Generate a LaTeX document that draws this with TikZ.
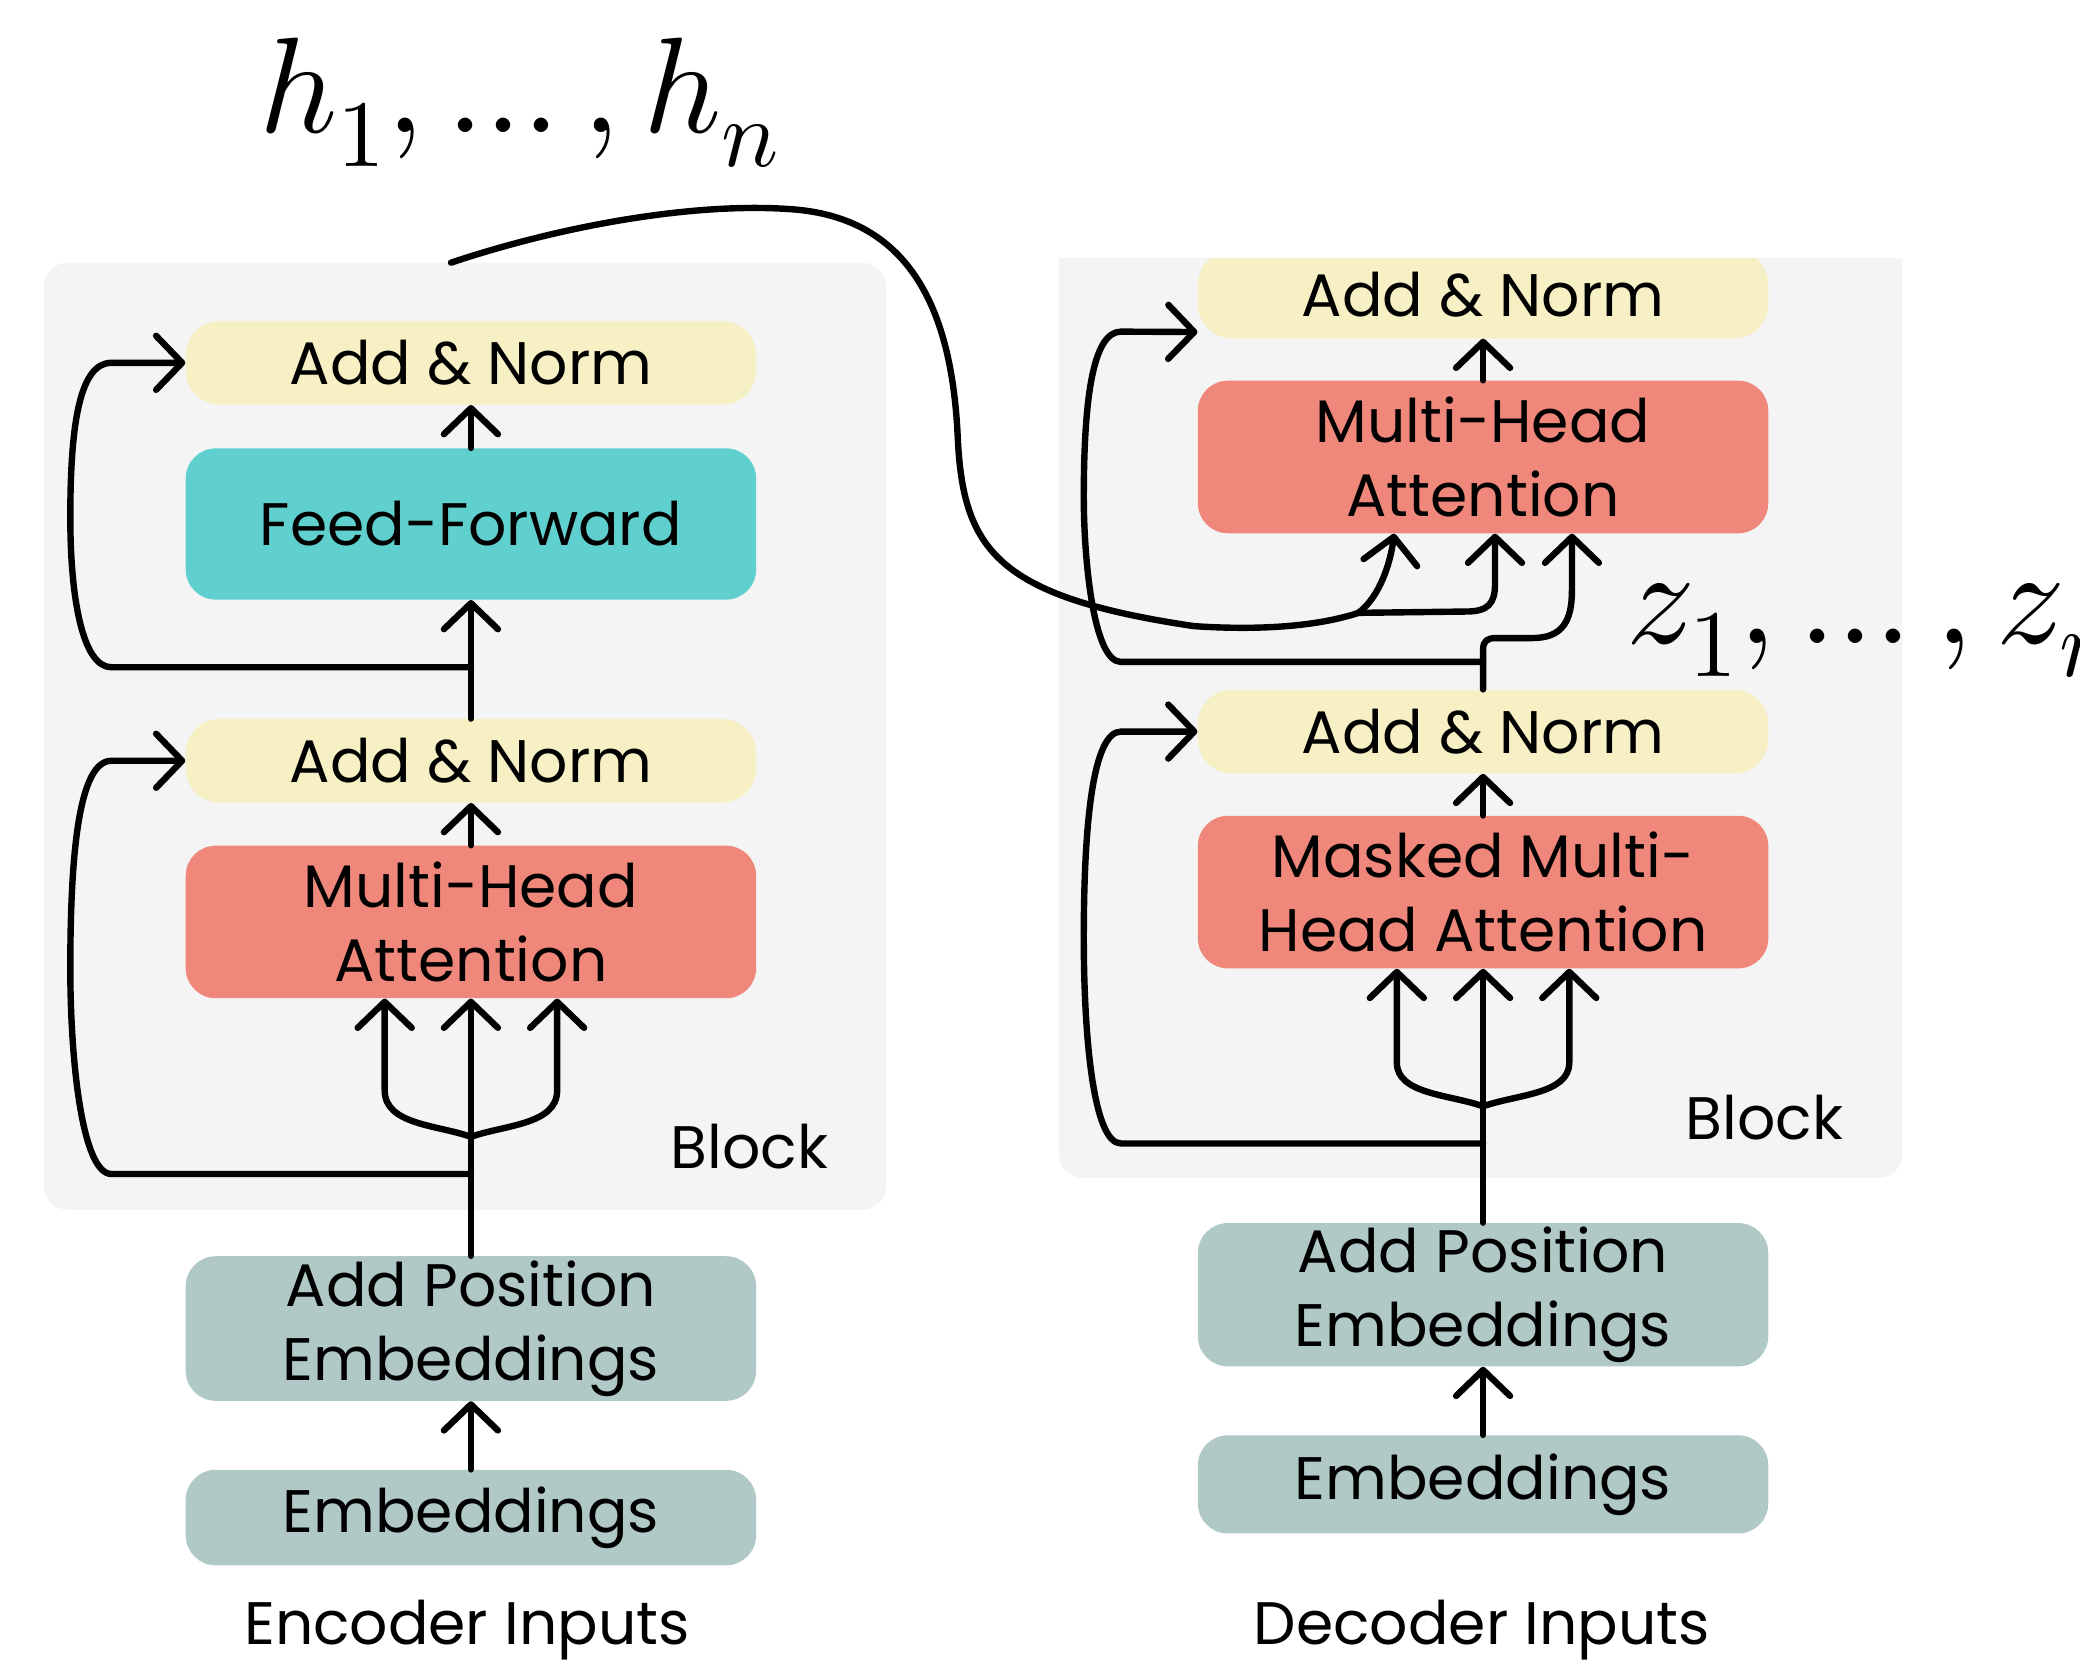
\documentclass[tikz,border=0pt]{standalone}
\usepackage{fontspec}
\usepackage{unicode-math}
\setmainfont{Poppins}
\setmathfont{Latin Modern Math}
\usetikzlibrary{arrows.meta,calc}
\definecolor{blockbg}{HTML}{F4F4F4}
\definecolor{anyellow}{HTML}{F6F0C4}
\definecolor{ffteal}{HTML}{5FD0CD}
\definecolor{mhared}{HTML}{EF887A}
\definecolor{embgray}{HTML}{B0C9C7}
\newcommand{\spx}{0.6633pt}
\begin{document}
\begin{tikzpicture}[x=0.6633pt,y=-0.6633pt,
  box/.style={rounded corners=15pt, minimum width=430*\spx, align=center, inner sep=0pt, font=\fontsize{30}{37}\selectfont, text=black},
  anbox/.style={box, fill=anyellow, minimum height=63*\spx, rounded corners=17pt},
  ffbox/.style={box, fill=ffteal, minimum height=114*\spx},
  mhabox/.style={box, fill=mhared, minimum height=115*\spx},
  embbox/.style={box, fill=embgray},
  blkbox/.style={fill=blockbg, rounded corners=12pt, inner sep=0pt},
  lbl/.style={inner sep=0pt, font=\fontsize{30}{37}\selectfont, anchor=base},
  mathlbl/.style={inner sep=0pt, anchor=base west, font=\fontsize{68}{80}\selectfont},
  conn/.style={line width=3.2pt, line cap=round, line join=round},
  arr/.style={conn, -{Straight Barb[length=13pt,width=27pt,round]}},
]
\useasboundingbox (0,0) rectangle (1568,1254);

% ---------- encoder ----------
\node[blkbox, minimum width=635*\spx, minimum height=714*\spx] (eBlk) at (350.5,555) {};
\node[anbox] (eAN1) at (355,273.5) {Add \& Norm};
\node[ffbox] (eFF) at (355,395) {Feed-Forward};
\node[anbox] (eAN2) at (355,573.5) {Add \& Norm};
\node[mhabox] (eMHA) at (355,695) {Multi-Head\\Attention};
\node[embbox, minimum height=109*\spx] (eAPE) at (355,1001.5) {Add Position\\Embeddings};
\node[embbox, minimum height=72*\spx] (eEmb) at (355,1144) {Embeddings};
\node[lbl] (eBlockLbl) at (565,881) {Block};
\node[lbl] (eIn) at (352,1240) {Encoder Inputs};

% ---------- decoder ----------
\begin{scope}
  \clip (0,195) rectangle (1568,1254);
  \node[blkbox, minimum width=636*\spx, minimum height=718*\spx] (dBlk) at (1116,529) {};
  \node[anbox, minimum height=66*\spx] (dAN3) at (1118,222) {Add \& Norm};
\end{scope}
\node[mhabox] (dMHA) at (1118,344.5) {Multi-Head\\Attention};
\node[anbox] (dAN4) at (1118,551.5) {Add \& Norm};
\node[mhabox] (dMMHA) at (1118,672.5) {Masked Multi-\\Head Attention};
\node[embbox, minimum height=108*\spx] (dAPE) at (1118,976) {Add Position\\Embeddings};
\node[embbox, minimum height=74*\spx] (dEmb) at (1118,1119) {Embeddings};
\node[lbl] (dBlockLbl) at (1330,859) {Block};
\node[lbl] (dIn) at (1117,1240) {Decoder Inputs};

% ---------- math labels ----------
\node[mathlbl] (hLbl) at (195,100) {$h_1,\ldots,h_n$};
\node[mathlbl] (zLbl) at (1226,485) {$z_1,\ldots,z_n$};

% ---------- encoder connectors ----------
\draw[arr] (eFF.north) -- (eAN1.south);
\draw[arr] (eAN2.north) -- (eFF.south);
\draw[arr] (eMHA.north) -- (eAN2.south);
\draw[arr] (eAPE.north) -- (eMHA.south);
\draw[arr] (eEmb.north) -- (eAPE.south);
\coordinate (eJ1) at (355,503);
\draw[arr] (eJ1) -- (84,503) .. controls (62,503) and (53,450) .. (53,390) .. controls (53,320) and (60,273.5) .. (84,273.5) -- (eAN1.west);
\coordinate (eJ2) at (355,885);
\draw[arr] (eJ2) -- (84,885) .. controls (62,885) and (53,800) .. (53,730) .. controls (53,640) and (60,573.5) .. (84,573.5) -- (eAN2.west);
\coordinate (eF) at (355,857);
\draw[arr] (eF) .. controls (330,848) and (290,848) .. (290,822) -- ($(eMHA.south)+(-65,0)$);
\draw[arr] (eF) .. controls (380,848) and (420,848) .. (420,822) -- ($(eMHA.south)+(65,0)$);

% ---------- decoder connectors ----------
\draw[arr] (dMHA.north) -- (dAN3.south);
\draw[arr] (dMMHA.north) -- (dAN4.south);
\draw[arr] (dAPE.north) -- (dMMHA.south);
\draw[arr] (dEmb.north) -- (dAPE.south);
\coordinate (dF) at (1118,834);
\draw[arr] (dF) .. controls (1093,825) and (1053,825) .. (1053,801) -- ($(dMMHA.south)+(-65,0)$);
\draw[arr] (dF) .. controls (1143,825) and (1183,825) .. (1183,801) -- ($(dMMHA.south)+(65,0)$);
\coordinate (dJ2) at (1118,862);
\draw[arr] (dJ2) -- (845,862) .. controls (824,862) and (817,780) .. (817,707) .. controls (817,620) and (824,551.5) .. (845,551.5) -- (dAN4.west);
\coordinate (dJ1) at (1118,499);
\coordinate (dAN3in) at ($(dAN3.south west)+(0,-5)$);
\draw[arr] (dJ1) -- (845,499) .. controls (824,499) and (817,420) .. (817,375) .. controls (817,300) and (824,250) .. (845,250) -- (dAN3in);
\draw[arr] (dAN4.north) -- (1118,490) .. controls (1118,483) and (1121,481) .. (1128,481) -- (1155,481) .. controls (1178,481) and (1185,468) .. (1185,445) -- ($(dMHA.south)+(67,0)$);

% ---------- cross attention from encoder ----------
\coordinate (hStart) at (340,198);
\coordinate (hK) at (1024,462);
\draw[conn] (hStart) .. controls (430,168) and (530,152) .. (600,158) .. controls (690,166) and (718,240) .. (722,330) .. controls (726,415) and (752,450) .. (900,472) .. controls (960,476) and (1000,470) .. (hK);
\draw[arr] (hK) .. controls (1040,450) and (1048,425) .. ($(dMHA.south)+(-67,0)$);
\draw[arr] (hK) -- (1105,461) .. controls (1122,461) and (1127,455) .. (1127,440) -- ($(dMHA.south)+(9,0)$);
\end{tikzpicture}
\end{document}
